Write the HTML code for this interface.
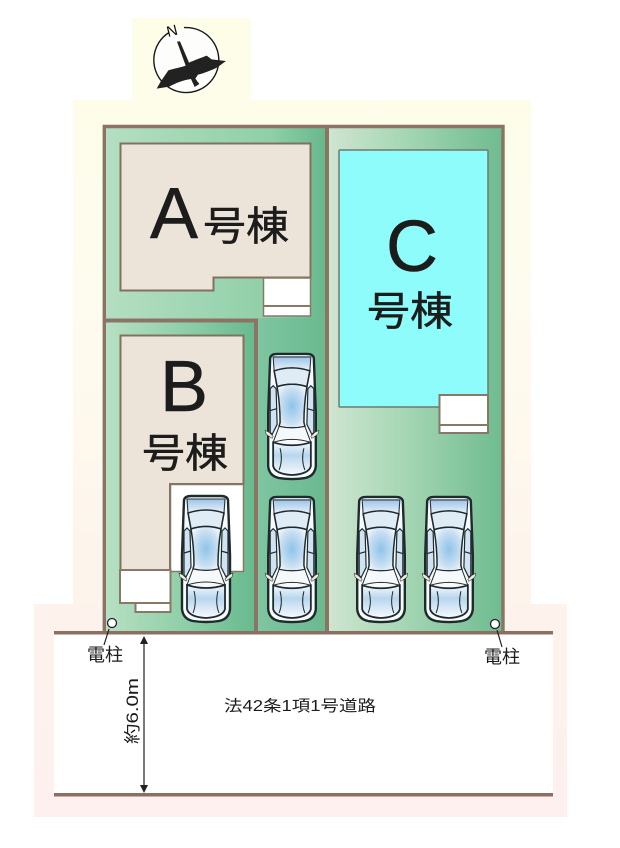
<!DOCTYPE html>
<html><head><meta charset="utf-8"><style>
html,body{margin:0;padding:0;background:#fff}
svg{display:block}
text{font-family:"Liberation Sans","Noto Sans CJK JP",sans-serif;fill:#1c1c1c}
.h{stroke:#1c1c1c;stroke-width:.5px}
</style></head><body>
<svg width="620" height="848" viewBox="0 0 620 848" xmlns="http://www.w3.org/2000/svg">
<defs>
<linearGradient id="bg" gradientUnits="userSpaceOnUse" x1="0" y1="18" x2="0" y2="817">
<stop offset="0" stop-color="#fdfde8"/><stop offset=".35" stop-color="#fefcee"/><stop offset=".75" stop-color="#fdf3ec"/><stop offset="1" stop-color="#fdf0ee"/></linearGradient>
<linearGradient id="gA" x1="0" x2="1" y1="0" y2="0"><stop offset="0" stop-color="#b5dfc2"/><stop offset=".75" stop-color="#8fcfa8"/><stop offset="1" stop-color="#66b88c"/></linearGradient>
<linearGradient id="gC" x1="0" x2="1" y1="0" y2="0"><stop offset="0" stop-color="#cfe5d0"/><stop offset=".4" stop-color="#a9d8b6"/><stop offset="1" stop-color="#6fbb90"/></linearGradient>
<linearGradient id="gB" x1="0" x2="1" y1="0" y2="0"><stop offset="0" stop-color="#b8e0c4"/><stop offset=".6" stop-color="#88cca4"/><stop offset="1" stop-color="#68b98e"/></linearGradient>
<linearGradient id="gM" x1="0" x2="1" y1="0" y2="0"><stop offset="0" stop-color="#7ec5a0"/><stop offset="1" stop-color="#6ab98f"/></linearGradient>
<radialGradient id="roof" cx=".5" cy=".5" r=".6"><stop offset="0" stop-color="#8fc3ea"/><stop offset=".65" stop-color="#c8dff2"/><stop offset="1" stop-color="#f2f7fb"/></radialGradient>
<linearGradient id="wind" x1="0" x2="0" y1="0" y2="1"><stop offset="0" stop-color="#9cc3e8"/><stop offset="1" stop-color="#eef4fa"/></linearGradient>
<linearGradient id="rear" x1="0" x2="0" y1="0" y2="1"><stop offset="0" stop-color="#f5f9fc"/><stop offset=".4" stop-color="#b8d6ee"/><stop offset="1" stop-color="#f8fafc"/></linearGradient>
<symbol id="car" viewBox="0 0 54 128" overflow="visible">
<path d="M5 5 Q6 1 12 1 L42 1 Q48 1 49 5 L51 60 L51 114 Q50 124 40 126 Q27 128 14 126 Q4 124 3 114 L3 60 Z" fill="#f7fafc" stroke="#1e2a2c" stroke-width="2.400"/>
<path d="M8 4 L46 4 L45 18 Q27 12 9 18 Z" fill="url(#wind)" stroke="#24313a" stroke-width="1.100"/>
<path d="M9 18 Q27 12 45 18 L42 34 Q27 29 12 34 Z" fill="#dfecf6" stroke="#1e2a2c" stroke-width="1.600"/>
<path d="M12 34 Q27 29 42 34 Q39 52 39 70 L40 74 Q27 77 14 74 L15 70 Q15 52 12 34 Z" fill="url(#roof)" stroke="#1e2a2c" stroke-width="1.500"/>
<path d="M14 74 Q27 77 40 74 L46 90 Q27 84 8 90 Z" fill="#f6f9fb" stroke="#1e2a2c" stroke-width="1"/>
<path d="M8 90 Q27 96 46 90 L46 114 Q44 122 27 123 Q10 122 8 114 Z" fill="url(#rear)" stroke="#1e2a2c" stroke-width="1.800"/>
<path d="M5 36 L8 33 L11 36 L12 72 L7 82 L5 80 Z M49 36 L46 33 L43 36 L42 72 L47 82 L49 80 Z" fill="#d0e3f2" stroke="#1e2a2c" stroke-width="1.200"/>
<path d="M5 58 L12 56 M49 58 L42 56" stroke="#1e2a2c" stroke-width="1.200" fill="none"/>
<path d="M15 96 Q18 108 14 118 M39 96 Q36 108 40 118" stroke="#1e2a2c" stroke-width="1" fill="none"/>
<path d="M0 78 L4 80 L8 84 L7 86 L1 82 Z M54 78 L50 80 L46 84 L47 86 L53 82 Z" fill="#efece0" stroke="#3a3a3a" stroke-width=".6"/>
</symbol>
</defs>

<path d="M132 18H251V100H531V604H567V817H34V604H73V100H132Z" fill="url(#bg)"/>
<rect x="54" y="634" width="499" height="161" fill="#fff"/>

<rect x="104" y="126" width="223" height="506" fill="url(#gA)"/>
<rect x="328" y="126" width="175" height="506" fill="url(#gC)"/>
<rect x="105" y="322" width="151" height="310" fill="url(#gB)"/>
<rect x="258" y="318" width="69" height="314" fill="url(#gM)"/>

<!-- A house -->
<path d="M120.500 143.500H310.500V277.500H213.500V290.500H120.500Z" fill="#ece4d9" stroke="#83715f" stroke-width="2"/>
<rect x="263.500" y="278" width="47" height="38" fill="#fff" stroke="#8a7867" stroke-width="1.500"/>
<path d="M263 306H311" stroke="#8a7867" stroke-width="2"/>

<!-- C house -->
<rect x="339" y="150" width="149" height="257" rx="1" fill="#8dfcfb" stroke="#6f7a6e" stroke-width="1.500"/>
<rect x="439.500" y="395" width="48.500" height="38" fill="#fff" stroke="#8a7867" stroke-width="2"/>
<path d="M439 425H488" stroke="#8a7867" stroke-width="2"/>

<!-- B house -->
<path d="M120.500 335.500H243.500V484H170V570.500H120.500Z" fill="#ece4d9" stroke="#83715f" stroke-width="2"/>
<rect x="170.500" y="484.500" width="73" height="87" fill="#fff" stroke="#8a7867" stroke-width="1.500"/>
<path d="M120 570H170.500V603H120Z" fill="#fff" stroke="#8a7867" stroke-width="2"/>
<rect x="135.500" y="603" width="35" height="9" fill="#fff" stroke="#8a7867" stroke-width="2"/>

<!-- walls -->
<g fill="none" stroke="#8c7464" stroke-width="3.400">
<path d="M104.300 632V126.500H503V632"/>
</g>
<g fill="none" stroke="#8c7464" stroke-width="4">
<path d="M327 126V632"/>
<path d="M104 320.500H256V632"/>
</g>
<rect x="54" y="631" width="499" height="3.500" fill="#8c6f62"/>
<rect x="54" y="793" width="499" height="3.500" fill="#8c6f62"/>

<!-- cars -->
<use href="#car" x="179" y="495" width="54" height="128"/>
<use href="#car" x="265" y="496" width="54" height="127"/>
<use href="#car" x="265" y="353" width="54" height="127"/>
<use href="#car" x="354" y="496" width="54" height="127"/>
<use href="#car" x="422" y="496" width="54" height="127"/>

<!-- labels -->
<text class="h" x="150" y="238" font-size="72">A</text>
<text class="h" x="203" y="240" font-size="40" textLength="86" lengthAdjust="spacingAndGlyphs">号棟</text>
<text class="h" x="386" y="271" font-size="72">C</text>
<text class="h" x="367" y="325" font-size="40" textLength="86" lengthAdjust="spacingAndGlyphs">号棟</text>
<text class="h" x="160" y="411" font-size="72">B</text>
<text class="h" x="142" y="467" font-size="40" textLength="86" lengthAdjust="spacingAndGlyphs">号棟</text>

<!-- poles -->
<line x1="109" y1="629" x2="104" y2="645" stroke="#222" stroke-width="1.200"/>
<circle cx="112" cy="623" r="4.500" fill="#fff" stroke="#222" stroke-width="1.300"/>
<line x1="497" y1="630" x2="502" y2="647" stroke="#222" stroke-width="1.200"/>
<circle cx="495" cy="624" r="4.500" fill="#fff" stroke="#222" stroke-width="1.300"/>
<text x="87" y="661" font-size="18">電柱</text>
<text x="484" y="663" font-size="18">電柱</text>
<text x="224" y="711" font-size="15.500" textLength="152" lengthAdjust="spacingAndGlyphs">法42条1項1号道路</text>

<!-- dimension -->
<line x1="144" y1="640" x2="144" y2="790" stroke="#222" stroke-width="1.200"/>
<path d="M144 636L140 644H148Z M144 793L140 785H148Z" fill="#222"/>
<text transform="translate(138,744) rotate(-90)" font-size="16.500" textLength="66" lengthAdjust="spacingAndGlyphs">約6.0m</text>

<!-- compass -->
<path d="M169 32.500A32.500 32.500 0 1 0 184 27.600" fill="#fdfdfb" stroke="#1a1a1a" stroke-width="1.400"/>
<text transform="translate(168,37) rotate(-14)" font-size="15" style="fill:#111">N</text>
<g transform="translate(120,10) scale(.3333)" fill="#222">
<path d="M171 95L180 94L207 158C225 150 245 143 260 137L275 148L318 153L292 172C272 182 250 190 234 194L226 206L238 222L224 231L213 207C190 210 165 220 148 230L110 236L122 215L145 181C165 175 185 172 197 167Z"/>
</g>
</svg>
</body></html>
